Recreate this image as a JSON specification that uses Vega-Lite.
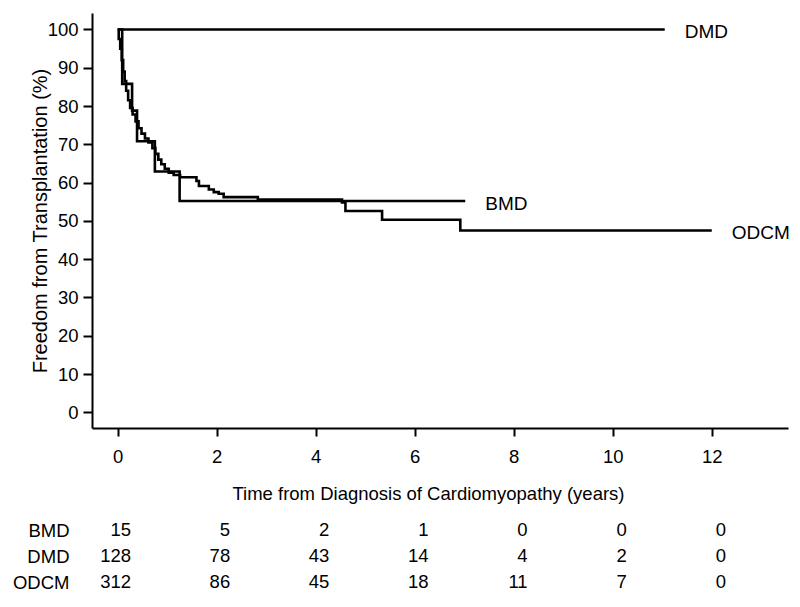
{
  "$schema": "https://vega.github.io/schema/vega-lite/v6.json",
  "width": 696,
  "height": 415,
  "autosize": {"type": "none"},
  "padding": {"left": 92, "top": 13, "right": 12, "bottom": 179},
  "background": "white",
  "config": {
    "view": {"stroke": null},
    "font": "Liberation Sans",
    "axis": {"grid": false, "domainColor": "black", "tickColor": "black", "labelColor": "black", "titleColor": "black", "domainWidth": 2, "tickWidth": 2, "labelFont": "Liberation Sans", "titleFont": "Liberation Sans", "titleFontWeight": "normal"}
  },
  "datasets": {
    "curves": [
      {"group": "DMD", "t": 0, "v": 100},
      {"group": "DMD", "t": 11.05, "v": 100},
      {"group": "BMD", "t": 0, "v": 100},
      {"group": "BMD", "t": 0.09, "v": 85.8},
      {"group": "BMD", "t": 0.29, "v": 78.8},
      {"group": "BMD", "t": 0.39, "v": 70.8},
      {"group": "BMD", "t": 0.75, "v": 62.9},
      {"group": "BMD", "t": 1.25, "v": 55.2},
      {"group": "BMD", "t": 7.02, "v": 55.2},
      {"group": "ODCM", "t": 0, "v": 100},
      {"group": "ODCM", "t": 0.02, "v": 97.5},
      {"group": "ODCM", "t": 0.05, "v": 95},
      {"group": "ODCM", "t": 0.08, "v": 92},
      {"group": "ODCM", "t": 0.11, "v": 89},
      {"group": "ODCM", "t": 0.14, "v": 86.5},
      {"group": "ODCM", "t": 0.17, "v": 84},
      {"group": "ODCM", "t": 0.21, "v": 81.5},
      {"group": "ODCM", "t": 0.25, "v": 79.5},
      {"group": "ODCM", "t": 0.30, "v": 77.8},
      {"group": "ODCM", "t": 0.36, "v": 76},
      {"group": "ODCM", "t": 0.42, "v": 74.2},
      {"group": "ODCM", "t": 0.48, "v": 72.8},
      {"group": "ODCM", "t": 0.55, "v": 71.5},
      {"group": "ODCM", "t": 0.62, "v": 70.5},
      {"group": "ODCM", "t": 0.70, "v": 69},
      {"group": "ODCM", "t": 0.76, "v": 67.5},
      {"group": "ODCM", "t": 0.82, "v": 66},
      {"group": "ODCM", "t": 0.88, "v": 64.8},
      {"group": "ODCM", "t": 0.95, "v": 63.6},
      {"group": "ODCM", "t": 1.03, "v": 62.6},
      {"group": "ODCM", "t": 1.13, "v": 62.0},
      {"group": "ODCM", "t": 1.26, "v": 61.4},
      {"group": "ODCM", "t": 1.59, "v": 60.4},
      {"group": "ODCM", "t": 1.64, "v": 59.1},
      {"group": "ODCM", "t": 1.84, "v": 58.2},
      {"group": "ODCM", "t": 1.94, "v": 57.5},
      {"group": "ODCM", "t": 2.04, "v": 57.1},
      {"group": "ODCM", "t": 2.14, "v": 56.2},
      {"group": "ODCM", "t": 2.83, "v": 55.6},
      {"group": "ODCM", "t": 4.53, "v": 54.8},
      {"group": "ODCM", "t": 4.60, "v": 52.6},
      {"group": "ODCM", "t": 5.34, "v": 50.3},
      {"group": "ODCM", "t": 6.92, "v": 47.5},
      {"group": "ODCM", "t": 12.0, "v": 47.5}
    ],
    "endLabels": [
      {"label": "DMD", "t": 11.05, "v": 100},
      {"label": "BMD", "t": 7.02, "v": 55.2},
      {"label": "ODCM", "t": 12.0, "v": 47.5}
    ],
    "atRisk": [
      {"group": "BMD", "t": 0, "n": 15},
      {"group": "BMD", "t": 2, "n": 5},
      {"group": "BMD", "t": 4, "n": 2},
      {"group": "BMD", "t": 6, "n": 1},
      {"group": "BMD", "t": 8, "n": 0},
      {"group": "BMD", "t": 10, "n": 0},
      {"group": "BMD", "t": 12, "n": 0},
      {"group": "DMD", "t": 0, "n": 128},
      {"group": "DMD", "t": 2, "n": 78},
      {"group": "DMD", "t": 4, "n": 43},
      {"group": "DMD", "t": 6, "n": 14},
      {"group": "DMD", "t": 8, "n": 4},
      {"group": "DMD", "t": 10, "n": 2},
      {"group": "DMD", "t": 12, "n": 0},
      {"group": "ODCM", "t": 0, "n": 312},
      {"group": "ODCM", "t": 2, "n": 86},
      {"group": "ODCM", "t": 4, "n": 45},
      {"group": "ODCM", "t": 6, "n": 18},
      {"group": "ODCM", "t": 8, "n": 11},
      {"group": "ODCM", "t": 10, "n": 7},
      {"group": "ODCM", "t": 12, "n": 0}
    ]
  },
  "layer": [
    {
      "layer": [
        {
          "data": {"name": "curves"},
          "mark": {"type": "line", "interpolate": "step-after", "color": "black", "strokeWidth": 2.6},
          "encoding": {
            "x": {
              "field": "t", "type": "quantitative",
              "scale": {"domain": [-0.52, 13.54], "nice": false, "zero": false},
              "axis": {"values": [0, 2, 4, 6, 8, 10, 12], "title": "Time from Diagnosis of Cardiomyopathy (years)", "tickSize": 8, "labelPadding": 11, "labelFontSize": 18.5, "titleFontSize": 18.5, "titleX": 336, "titleY": 65, "titleAlign": "center", "titleBaseline": "middle"}
            },
            "y": {
              "field": "v", "type": "quantitative",
              "scale": {"domain": [-4.1, 104.3], "nice": false, "zero": false},
              "axis": {"values": [0, 10, 20, 30, 40, 50, 60, 70, 80, 90, 100], "title": "Freedom from Transplantation (%)", "tickSize": 9, "labelPadding": 5, "labelFontSize": 18.5, "titleFontSize": 20, "titlePadding": -3}
            },
            "detail": {"field": "group"},
            "order": {"field": "t", "type": "quantitative"}
          }
        },
        {
          "data": {"name": "endLabels"},
          "mark": {"type": "text", "align": "left", "baseline": "middle", "dx": 20, "dy": 3, "fontSize": 19, "color": "black"},
          "encoding": {
            "x": {"field": "t", "type": "quantitative"},
            "y": {"field": "v", "type": "quantitative"},
            "text": {"field": "label"}
          }
        }
      ]
    },
    {
      "data": {"name": "atRisk"},
      "mark": {"type": "text", "align": "right", "baseline": "middle", "fontSize": 18.5, "color": "black"},
      "encoding": {
        "x": {"field": "t", "type": "quantitative", "scale": {"domain": [0, 12], "range": [39, 634], "nice": false, "zero": false}, "axis": null},
        "y": {"field": "group", "type": "nominal", "sort": ["BMD", "DMD", "ODCM"], "scale": {"type": "point", "range": [517, 569], "padding": 0}, "axis": {"orient": "left", "title": null, "domain": false, "ticks": false, "labelPadding": 23, "labelFontSize": 18.5, "labelColor": "black"}},
        "text": {"field": "n", "type": "quantitative"}
      }
    }
  ],
  "resolve": {"scale": {"x": "independent", "y": "independent"}}
}
